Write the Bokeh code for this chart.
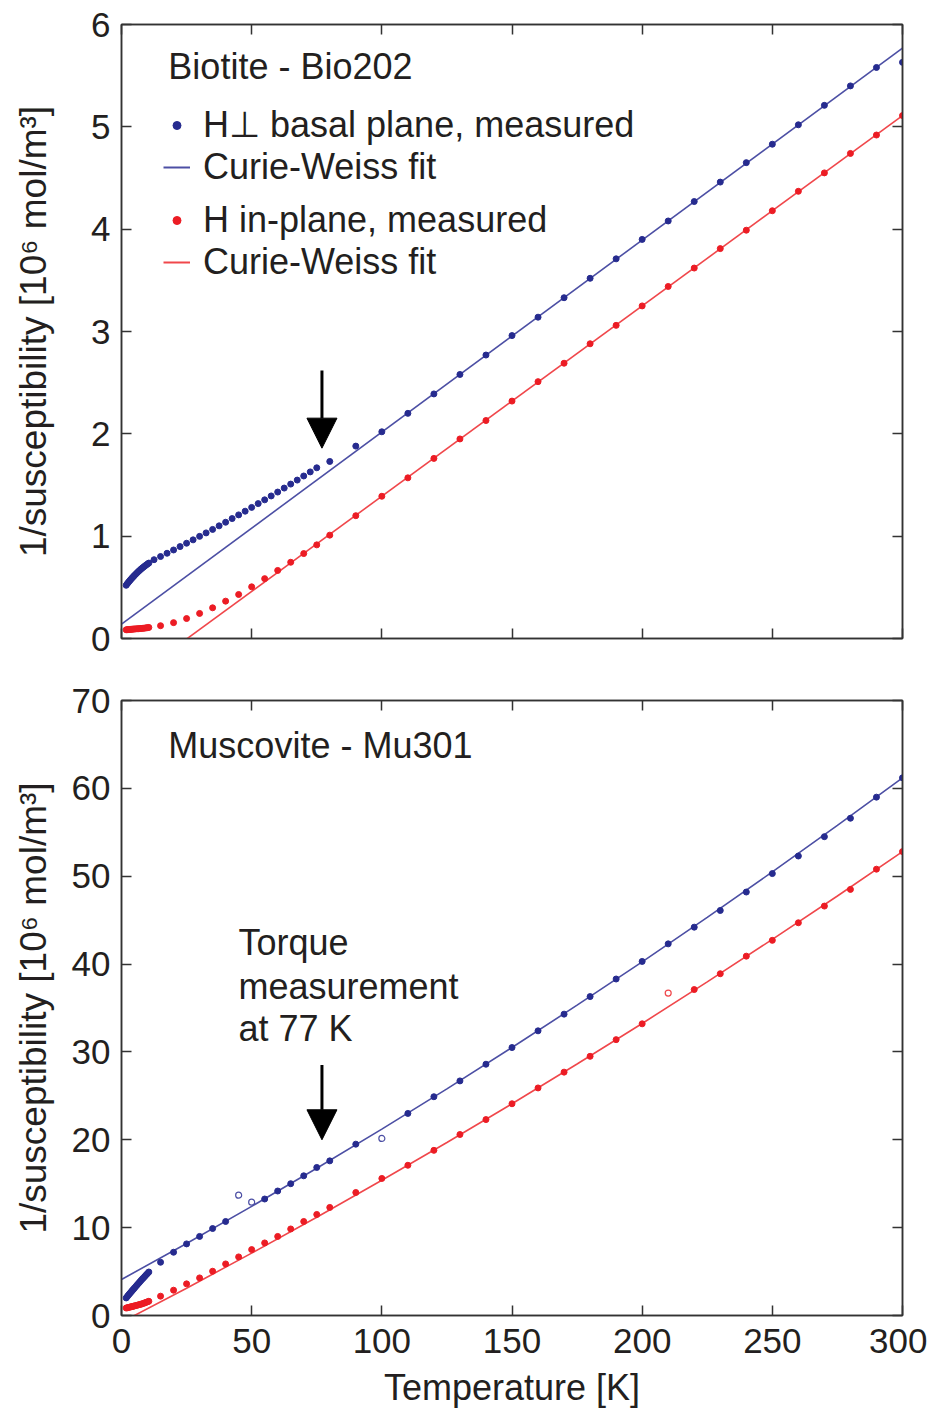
from bokeh.plotting import figure
from bokeh.layouts import column
from bokeh.models import (Range1d, LinearAxis, FixedTicker, Label, Arrow,
                          NormalHead, Legend, LegendItem)
from bokeh.embed import file_html
from bokeh.resources import INLINE

# ---------------- data ----------------
T_low = [1.8, 2.2, 2.6, 3.0, 3.4, 3.8, 4.2, 4.6, 5.0, 5.5, 6.0, 6.5, 7.0, 7.5,
         8.0, 8.5, 9.0, 9.5, 10.0, 10.5]

# Biotite - Bio202, H perpendicular to basal plane
bio_perp_T = T_low + [12.5, 15, 17.5, 20, 22.5, 25, 27.5, 30, 32.5, 35, 37.5, 40,
                      42.5, 45, 47.5, 50, 52.5, 55, 57.5, 60, 62.5, 65, 67.5, 70,
                      72.5, 75] + [80, 90, 100, 110, 120, 130, 140, 150, 160, 170,
                                   180, 190, 200, 210, 220, 230, 240, 250, 260,
                                   270, 280, 290, 300]
bio_perp = [0.52, 0.535, 0.548, 0.56, 0.572, 0.584, 0.595, 0.606, 0.617, 0.63,
            0.643, 0.655, 0.667, 0.678, 0.689, 0.699, 0.709, 0.719, 0.728, 0.737,
            0.770, 0.801, 0.833, 0.865, 0.898, 0.931, 0.964, 0.998, 1.032, 1.066,
            1.101, 1.136, 1.172, 1.208, 1.244, 1.281, 1.318, 1.355, 1.393, 1.431,
            1.470, 1.509, 1.548, 1.588, 1.628, 1.668,
            1.73, 1.88, 2.02, 2.20, 2.39, 2.58, 2.77, 2.96, 3.14, 3.33, 3.52, 3.71,
            3.90, 4.08, 4.27, 4.46, 4.65, 4.83, 5.02, 5.21, 5.40, 5.58, 5.63]

# Biotite - Bio202, H in-plane
bio_in_T = T_low + [15, 20, 25, 30, 35, 40, 45, 50, 55, 60, 65, 70, 75] + \
    [80, 90, 100, 110, 120, 130, 140, 150, 160, 170, 180, 190, 200, 210, 220,
     230, 240, 250, 260, 270, 280, 290, 300]
bio_in = [0.085, 0.086, 0.087, 0.088, 0.089, 0.090, 0.091, 0.092, 0.093, 0.094,
          0.095, 0.096, 0.097, 0.098, 0.099, 0.100, 0.102, 0.104, 0.106, 0.108,
          0.125, 0.155, 0.195, 0.245, 0.30, 0.365, 0.43, 0.505, 0.585, 0.665,
          0.745, 0.83, 0.915,
          1.01, 1.20, 1.39, 1.57, 1.76, 1.95, 2.13, 2.32, 2.51, 2.69, 2.88, 3.06,
          3.25, 3.44, 3.62, 3.81, 3.99, 4.18, 4.37, 4.55, 4.74, 4.92, 5.11]

bio_fit_T = [0, 300]
bio_perp_fit = [0.14, 5.77]
bio_in_fit = [-0.47, 5.11]

# Muscovite - Mu301, H perpendicular
mu_perp_T = T_low + [15, 20, 25, 30, 35, 40, 55, 60, 65, 70, 75, 80, 90] + \
    [110, 120, 130, 140, 150, 160, 170, 180, 190, 200, 210, 220, 230, 240, 250,
     260, 270, 280, 290, 300]
mu_perp = [2.0, 2.15, 2.3, 2.44, 2.58, 2.72, 2.86, 3.0, 3.14, 3.31, 3.48, 3.65,
           3.82, 3.99, 4.15, 4.31, 4.47, 4.63, 4.79, 4.95,
           6.06, 7.2, 8.15, 9.0, 9.9, 10.7, 13.26, 14.17, 15.0, 15.9, 16.85, 17.6,
           19.5,
           23.0, 24.9, 26.7, 28.6, 30.5, 32.4, 34.3, 36.3, 38.3, 40.3, 42.3, 44.2,
           46.1, 48.2, 50.3, 52.3, 54.5, 56.6, 59.0, 61.2]
mu_perp_out_T = [45, 50, 100]
mu_perp_out = [13.7, 12.9, 20.15]

# Muscovite - Mu301, H in-plane
mu_in_T = T_low + [15, 20, 25, 30, 35, 40, 45, 50, 55, 60, 65, 70, 75, 80, 90,
                   100] + \
    [110, 120, 130, 140, 150, 160, 170, 180, 190, 200, 220, 230, 240, 250, 260,
     270, 280, 290, 300]
mu_in = [0.85, 0.88, 0.91, 0.94, 0.97, 1.0, 1.03, 1.06, 1.09, 1.13, 1.17, 1.21,
         1.25, 1.29, 1.34, 1.39, 1.44, 1.5, 1.56, 1.62,
         2.2, 2.88, 3.6, 4.28, 5.04, 5.87, 6.67, 7.5, 8.26, 9.0, 9.85, 10.7, 11.5,
         12.3, 14.0, 15.6,
         17.1, 18.8, 20.6, 22.3, 24.1, 25.9, 27.7, 29.5, 31.4, 33.2, 37.1, 38.9,
         40.9, 42.7, 44.7, 46.6, 48.5, 50.8, 52.8]
mu_in_out_T = [210]
mu_in_out = [36.7]

mu_fit_T = [0, 25, 50, 75, 100, 125, 150, 175, 200, 225, 250, 275, 300]
mu_perp_fit = [4.1, 8.2, 12.42, 16.76, 21.22, 25.8, 30.5, 35.32, 40.25, 45.31,
               50.49, 55.79, 61.2]
mu_in_fit = [-0.77, 3.11, 7.1, 11.19, 15.39, 19.69, 24.1, 28.62, 33.24, 37.97,
             42.81, 47.75, 52.8]

x_ticks = [0, 50, 100, 150, 200, 250, 300]
bio_y_ticks = [0, 1, 2, 3, 4, 5, 6]
mu_y_ticks = [0, 10, 20, 30, 40, 50, 60, 70]

# ---------------- style ----------------
FONT = "Liberation Sans"
TXT = "#231f20"
AX = "#333333"
BLUE_PT = "#262b8f"
BLUE_LN = "#4c4fa4"
RED_PT = "#ec1c24"
RED_LN = "#f0474b"
YLABEL = "1/susceptibility [10\u2076 mol/m\u00b3]"
NAN = float("nan")


def style_axis(ax, show_labels):
    ax.axis_line_color = AX
    ax.axis_line_width = 1.5
    ax.major_tick_in = 10
    ax.major_tick_out = 0
    ax.major_tick_line_color = AX
    ax.major_tick_line_width = 1.5
    ax.minor_tick_line_color = None
    ax.major_label_text_font = FONT
    if show_labels:
        ax.major_label_text_font_size = "35px"
        ax.major_label_text_color = TXT
    else:
        ax.major_label_text_font_size = "0px"
        ax.major_label_text_color = None
        ax.major_label_standoff = 0


def make_fig(height, ymax, yticks, top_b, bot_b, show_x_labels, ylab_standoff):
    p = figure(width=927, height=height, x_range=Range1d(0, 300),
               y_range=Range1d(0, ymax), output_backend="svg",
               toolbar_location=None, min_border_left=121, min_border_right=25,
               min_border_top=top_b, min_border_bottom=bot_b,
               outline_line_color=AX, outline_line_width=1.5,
               background_fill_color="white", border_fill_color="white")
    p.grid.visible = False
    xax = p.below[0]
    yax = p.left[0]
    xax.ticker = FixedTicker(ticks=x_ticks)
    yax.ticker = FixedTicker(ticks=yticks)
    style_axis(xax, show_x_labels)
    style_axis(yax, True)
    yax.major_label_standoff = 11
    if show_x_labels:
        xax.major_label_standoff = 13
    yax.axis_label = YLABEL
    yax.axis_label_text_font = FONT
    yax.axis_label_text_font_size = "37px"
    yax.axis_label_text_font_style = "normal"
    yax.axis_label_text_color = TXT
    yax.axis_label_standoff = ylab_standoff
    top = LinearAxis(ticker=FixedTicker(ticks=x_ticks))
    right = LinearAxis(ticker=FixedTicker(ticks=yticks))
    style_axis(top, False)
    style_axis(right, False)
    p.add_layout(top, "above")
    p.add_layout(right, "right")
    return p


# ---------------- top: Biotite ----------------
p1 = make_fig(670, 6, bio_y_ticks, 24, 32, False, 34)
p1.line(bio_fit_T, bio_perp_fit, line_color=BLUE_LN, line_width=1.6)
p1.line(bio_fit_T, bio_in_fit, line_color=RED_LN, line_width=1.6)
p1.scatter(bio_perp_T, bio_perp, size=6, color=BLUE_PT)
p1.scatter(bio_in_T, bio_in, size=6, color=RED_PT)

# legend-only renderers (nothing visible in the plot area)
lg_bd = p1.scatter(x=[NAN], y=[NAN], size=9, color=BLUE_PT)
lg_bl = p1.line(x=[NAN], y=[NAN], line_color=BLUE_LN, line_width=2)
lg_rd = p1.scatter(x=[NAN], y=[NAN], size=9, color=RED_PT)
lg_rl = p1.line(x=[NAN], y=[NAN], line_color=RED_LN, line_width=2)


def make_legend(items, loc):
    return Legend(items=items, location=loc, padding=0, margin=0, spacing=0,
                  glyph_width=27, glyph_height=20, label_standoff=13,
                  label_text_font=FONT, label_text_font_size="36px",
                  label_text_color=TXT, border_line_color=None,
                  background_fill_alpha=0)


leg1 = make_legend([LegendItem(label="H\u22a5 basal plane, measured", renderers=[lg_bd]),
                    LegendItem(label="Curie-Weiss fit", renderers=[lg_bl])], (42, 450))
leg2 = make_legend([LegendItem(label="H in-plane, measured", renderers=[lg_rd]),
                    LegendItem(label="Curie-Weiss fit", renderers=[lg_rl])], (42, 355))
p1.add_layout(leg1)
p1.add_layout(leg2)

p1.add_layout(Label(x=18, y=5.59, text="Biotite - Bio202", text_font=FONT,
                    text_font_size="36px", text_color=TXT, text_baseline="middle"))
p1.add_layout(Arrow(x_start=77, y_start=2.62, x_end=77, y_end=1.86,
                    line_color="black", line_width=3,
                    end=NormalHead(size=30, fill_color="black", line_color="black")))

# ---------------- bottom: Muscovite ----------------
p2 = make_fig(740, 70, mu_y_ticks, 30, 94, True, 15)
xb = p2.below[0]
xb.axis_label = "Temperature [K]"
xb.axis_label_text_font = FONT
xb.axis_label_text_font_size = "36px"
xb.axis_label_text_font_style = "normal"
xb.axis_label_text_color = TXT
xb.axis_label_standoff = 11

p2.line(mu_fit_T, mu_perp_fit, line_color=BLUE_LN, line_width=1.6)
p2.line(mu_fit_T, mu_in_fit, line_color=RED_LN, line_width=1.6)
p2.scatter(mu_perp_T, mu_perp, size=6, color=BLUE_PT)
p2.scatter(mu_in_T, mu_in, size=6, color=RED_PT)
p2.scatter(mu_perp_out_T, mu_perp_out, size=6, fill_color=None,
           line_color=BLUE_LN, line_width=1.2)
p2.scatter(mu_in_out_T, mu_in_out, size=6, fill_color=None,
           line_color=RED_LN, line_width=1.2)

p2.add_layout(Label(x=18, y=64.9, text="Muscovite - Mu301", text_font=FONT,
                    text_font_size="36px", text_color=TXT, text_baseline="middle"))
for txt, yy in [("Torque", 42.5), ("measurement", 37.5), ("at 77 K", 32.7)]:
    p2.add_layout(Label(x=44.9, y=yy, text=txt, text_font=FONT,
                        text_font_size="36px", text_color=TXT,
                        text_baseline="middle"))
p2.add_layout(Arrow(x_start=77, y_start=28.5, x_end=77, y_end=20.0,
                    line_color="black", line_width=3,
                    end=NormalHead(size=30, fill_color="black", line_color="black")))

layout = column(p1, p2)
open("out.html", "w").write(file_html(layout, INLINE))
